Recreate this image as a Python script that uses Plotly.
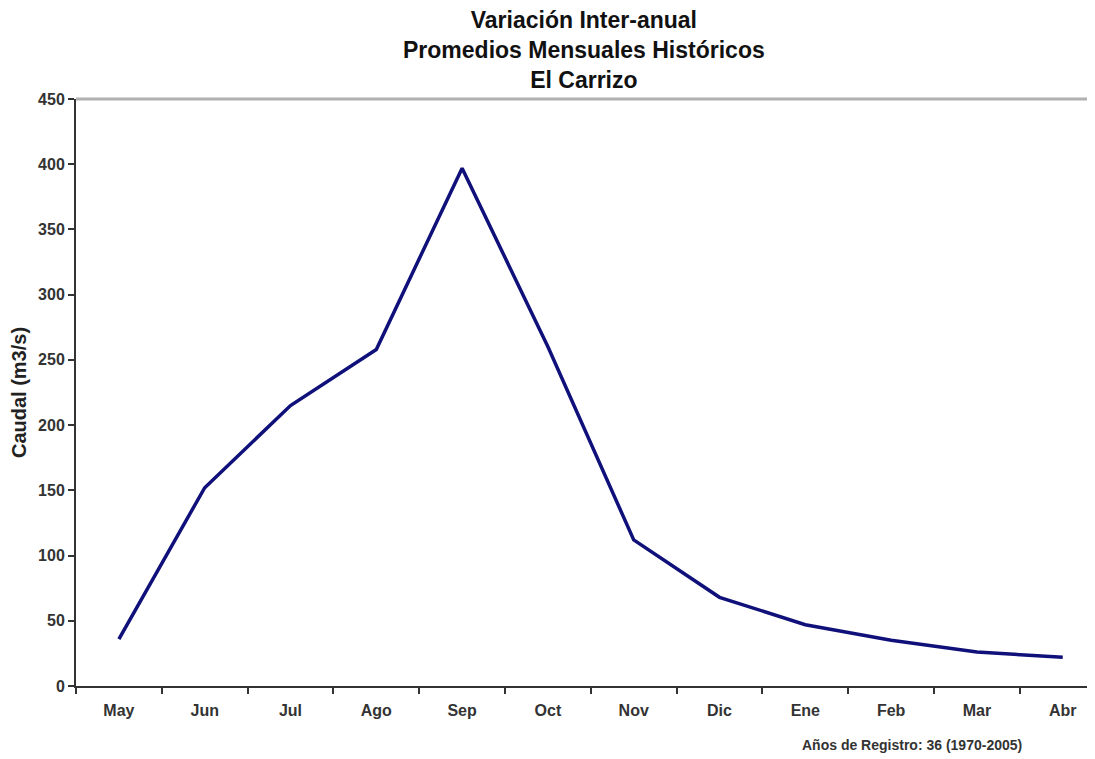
import plotly.graph_objects as go

months = ["May", "Jun", "Jul", "Ago", "Sep", "Oct", "Nov", "Dic", "Ene", "Feb", "Mar", "Abr"]
caudal = [36, 152, 215, 258, 397, 260, 112, 68, 47, 35, 26, 22]
y_ticks = [0, 50, 100, 150, 200, 250, 300, 350, 400, 450]

title_lines = ["Variación Inter-anual", "Promedios Mensuales Históricos", "El Carrizo"]
y_title = "Caudal (m3/s)"
note = "Años de Registro: 36 (1970-2005)"

FONT = "Liberation Sans, Arial, sans-serif"

# page body has an 8px margin; figure is sized/placed to compensate
W, H = 1087, 751
ML, MR, MT, MB = 68, 0, 91, 73
PW, PH = W - ML - MR, H - MT - MB

fig = go.Figure()
fig.add_trace(go.Scatter(
    x=months, y=caudal, mode="lines",
    line=dict(color="#10107a", width=3.5),
    hoverinfo="skip", showlegend=False,
))

fig.update_layout(
    width=W, height=H,
    margin=dict(l=ML, r=MR, t=MT, b=MB),
    paper_bgcolor="white", plot_bgcolor="white",
    font=dict(family=FONT, color="#222222"),
    xaxis=dict(
        type="category",
        categoryorder="array", categoryarray=months,
        tickvals=months,
        ticktext=["<b>%s</b>" % m for m in months],
        range=[-0.5, 11.376],
        showgrid=False, zeroline=False,
        showline=True, linecolor="#333333", linewidth=2,
        ticks="outside", ticklen=6, tickwidth=2, tickcolor="#333333",
        tickson="boundaries",
        tickfont=dict(size=16, family=FONT, color="#333333"),
        ticklabelstandoff=9,
    ),
    yaxis=dict(
        range=[0, 450],
        tickmode="array", tickvals=y_ticks,
        ticktext=["<b>%d</b>" % v for v in y_ticks],
        showgrid=False, zeroline=False,
        showline=True, linecolor="#333333", linewidth=2,
        ticks="outside", ticklen=6, tickwidth=2, tickcolor="#333333",
        tickfont=dict(size=16, family=FONT, color="#333333"),
        ticklabelstandoff=0,
        title=dict(text="<b>%s</b>" % y_title, font=dict(size=20, family=FONT, color="#222222"), standoff=8),
    ),
    shapes=[dict(type="line", xref="paper", yref="paper", x0=0, x1=1, y0=1, y1=1,
                 line=dict(color="#b0b0b0", width=3))],
    annotations=[
        dict(
            text="<b>" + "<br>".join(title_lines) + "</b>",
            xref="paper", yref="paper",
            x=(584 - 8 - ML) / PW, y=1 + (MT - (50 - 8)) / PH,
            xanchor="center", yanchor="middle", showarrow=False,
            font=dict(size=23, family=FONT, color="#111111"),
        ),
        dict(
            text="<b>%s</b>" % note, xref="paper", yref="paper",
            x=(912 - 8 - ML) / PW, y=-(745 - 686) / PH,
            xanchor="center", yanchor="middle", showarrow=False,
            font=dict(size=14, family=FONT, color="#333333"),
        ),
    ],
)

fig.write_html("out.html")
